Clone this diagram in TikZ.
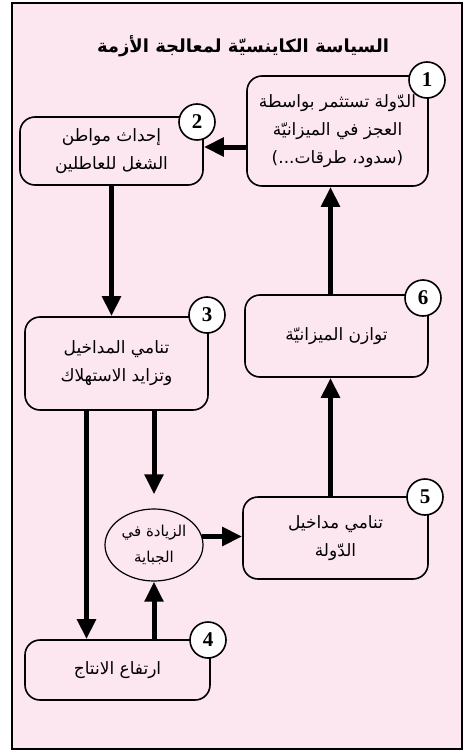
\documentclass[tikz,border=0pt]{standalone}
\usepackage{fontspec}
\usetikzlibrary{arrows.meta,shapes.geometric}
\newfontfamily\arabicfont[Script=Arabic]{DejaVu Sans}
\newfontfamily\numfont{Liberation Serif}
\TeXXeTstate=1
\definecolor{sheetpink}{RGB}{252,230,239}
\newcommand{\artxt}[1]{\beginR #1\endR}

\begin{document}
\begin{tikzpicture}[x=1pt,y=-1pt,>={Triangle[length=20pt,width=18pt]},
  stepbox/.style={draw,line width=1.6pt,rounded corners=15pt,fill=sheetpink,
    align=center,inner sep=0pt,font=\arabicfont\fontsize{17}{28}\selectfont},
  numdisc/.style={circle,draw,line width=1.6pt,fill=white,minimum size=36pt,
    inner sep=0pt,font=\numfont\bfseries\fontsize{21}{21}\selectfont},
  flow/.style={->,line width=5pt}]
  \useasboundingbox (0,0) rectangle (466,752);
  % sheet and title
  \draw[line width=1.7pt,fill=sheetpink] (12,3) rectangle (462,749);
  \node[font=\arabicfont\bfseries\fontsize{18}{20}\selectfont] (title) at (243,46)
    {\artxt{السياسة الكاينسيّة لمعالجة الأزمة}};
  % steps of the cycle
  \node[stepbox,minimum width=181pt,minimum height=110pt] (b1) at (337.5,131)
    {\artxt{الدّولة تستثمر بواسطة}\\\artxt{العجز في الميزانيّة}\\\artxt{(سدود، طرقات...)}};
  \node[stepbox,minimum width=183pt,minimum height=68pt] (b2) at (111.5,151)
    {\artxt{إحداث مواطن}\\\artxt{الشغل للعاطلين}};
  \node[stepbox,minimum width=183pt,minimum height=93pt] (b3) at (116.5,363.5)
    {\artxt{تنامي المداخيل}\\\artxt{وتزايد الاستهلاك}};
  \node[stepbox,minimum width=185pt,minimum height=60pt] (b4) at (117.5,670)
    {\artxt{ارتفاع الانتاج}};
  \node[stepbox,minimum width=185pt,minimum height=82pt] (b5) at (335.5,538)
    {\artxt{تنامي مداخيل}\\\artxt{الدّولة}};
  \node[stepbox,minimum width=183pt,minimum height=82pt] (b6) at (336.5,336)
    {\artxt{توازن الميزانيّة}};
  \node[ellipse,draw,line width=1.2pt,minimum width=98pt,minimum height=72pt,
    inner sep=0pt,align=center,font=\arabicfont\fontsize{15}{26}\selectfont] (tax) at (154,545)
    {\artxt{الزيادة في}\\\artxt{الجباية}};
  % numbered discs
  \node[numdisc] (n1) at (427,80) {1};
  \node[numdisc] (n2) at (197,122) {2};
  \node[numdisc] (n3) at (207,315) {3};
  \node[numdisc] (n4) at (208,640) {4};
  \node[numdisc] (n5) at (425,497) {5};
  \node[numdisc] (n6) at (423,298) {6};
  % arrows
  \draw[flow] (b1.west |- 0,147) -- (b2.east |- 0,147);
  \draw[flow] (b2.south) -- (b2.south |- b3.north);
  \draw[flow] ([xshift=-30pt]b3.south) -- ([xshift=-30pt]b3.south |- b4.north);
  \draw[flow,shorten >=14pt] (tax.north |- b3.south) -- (tax.north);
  \draw[flow] (tax.south |- b4.north) -- (tax.south);
  \draw[flow] (tax.10) -- (b5.west |- tax.10);
  \draw[flow] ([xshift=-5pt]b5.north) -- ([xshift=-5pt]b5.north |- b6.south);
  \draw[flow] ([xshift=-6pt]b6.north) -- ([xshift=-6pt]b6.north |- b1.south);
\end{tikzpicture}
\end{document}
